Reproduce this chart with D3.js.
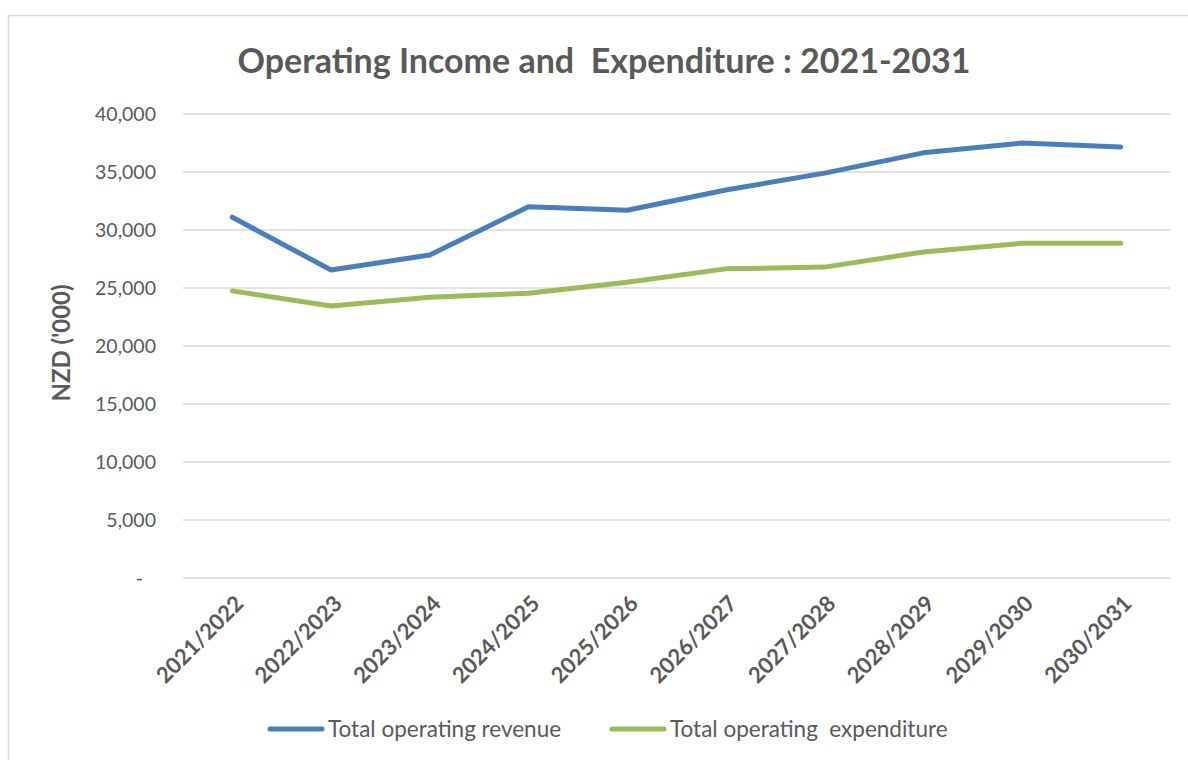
<!DOCTYPE html>
<meta charset="utf-8">
<style>
body { margin: 0; background: #fff; }
svg text { font-family: Lato, "Open Sans", sans-serif; fill: #595959; }
.grid line { stroke: #d9d9d9; stroke-width: 1.5px; }
.line { fill: none; stroke-width: 5px; stroke-linecap: round; stroke-linejoin: round; }
</style>
<body>
<script src="https://d3js.org/d3.v7.min.js"></script>
<script>

// data
var years = ["2021/2022", "2022/2023", "2023/2024", "2024/2025", "2025/2026",
             "2026/2027", "2027/2028", "2028/2029", "2029/2030", "2030/2031"];
var revenue = [31100, 26550, 27850, 32000, 31700, 33450, 34900, 36650, 37500, 37150];
var expenditure = [24750, 23450, 24200, 24550, 25500, 26650, 26800, 28100, 28850, 28850];
var yTicks = [0, 5000, 10000, 15000, 20000, 25000, 30000, 35000, 40000];
var seriesNames = ["Total operating revenue", "Total operating  expenditure"];
var seriesColors = ["#4a7ebb", "#9bbb59"];

var width = 1188, height = 760;

var svg = d3.select("body").append("svg")
    .attr("width", width)
    .attr("height", height);

// chart frame
svg.append("rect")
    .attr("x", 8.5).attr("y", 15.5)
    .attr("width", 1200).attr("height", 800)
    .attr("fill", "#fff")
    .attr("stroke", "#d9d9d9")
    .attr("stroke-width", 1.5);

var x = d3.scalePoint().domain(years).range([183, 1170]).padding(0.5);
var y = d3.scaleLinear().domain([0, 40000]).range([578, 114]);

// title
svg.append("text")
    .attr("x", 604)
    .attr("y", 73)
    .attr("text-anchor", "middle")
    .attr("font-size", "34px")
    .attr("font-weight", "bold")
    .style("white-space", "pre")
    .text("Operating Income and  Expenditure : 2021-2031");

// gridlines
svg.append("g")
    .attr("class", "grid")
    .selectAll("line")
    .data(yTicks)
    .join("line")
    .attr("x1", 183).attr("x2", 1170)
    .attr("y1", function(d) { return y(d); })
    .attr("y2", function(d) { return y(d); });

// y axis labels
var yAxis = svg.append("g")
    .attr("transform", "translate(183,0)")
    .call(d3.axisLeft(y).tickValues(yTicks).tickSize(0).tickPadding(27)
        .tickFormat(function(d) { return d === 0 ? "-" : d3.format(",")(d); }));
yAxis.select(".domain").remove();
yAxis.selectAll("text")
    .attr("font-size", "19.5px")
    .attr("fill", "#595959")
    .attr("font-family", "Lato, 'Open Sans', sans-serif")
    .attr("dx", function(d) { return d === 0 ? "-13px" : 0; });

svg.append("text")
    .attr("transform", "translate(70,343) rotate(-90)")
    .attr("text-anchor", "middle")
    .attr("font-size", "24px")
    .attr("font-weight", "bold")
    .text("NZD ('000)");

// x axis labels
var xAxis = svg.append("g")
    .attr("transform", "translate(0,578)")
    .call(d3.axisBottom(x).tickSize(0).tickPadding(0));
xAxis.select(".domain").remove();
xAxis.selectAll("text")
    .attr("font-size", "22px")
    .attr("font-weight", "bold")
    .attr("fill", "#595959")
    .attr("font-family", "Lato, 'Open Sans', sans-serif")
    .attr("text-anchor", "end")
    .attr("dy", 0)
    .attr("transform", "translate(12,27) rotate(-45)");

// lines
var valueline = d3.line()
    .x(function(d, i) { return x(years[i]); })
    .y(function(d) { return y(d); });

[revenue, expenditure].forEach(function(s, i) {
  svg.append("path")
      .datum(s)
      .attr("class", "line")
      .attr("stroke", seriesColors[i])
      .attr("d", valueline);
});

// legend
var legendX = [268, 610];
var legend = svg.append("g")
    .selectAll("g")
    .data(seriesNames)
    .join("g")
    .attr("transform", function(d, i) { return "translate(" + legendX[i] + ",729)"; });
legend.append("line")
    .attr("x1", 2).attr("x2", 54)
    .attr("stroke", function(d, i) { return seriesColors[i]; })
    .attr("stroke-width", 5)
    .attr("stroke-linecap", "round");
legend.append("text")
    .attr("x", 60)
    .attr("y", 8)
    .attr("font-size", "22.5px")
    .style("white-space", "pre")
    .text(function(d) { return d; });

</script>
